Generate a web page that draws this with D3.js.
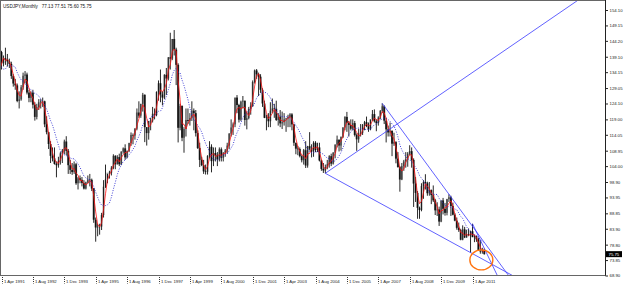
<!DOCTYPE html>
<html>
<head>
<meta charset="utf-8">
<script src="https://cdn.jsdelivr.net/npm/d3@7"></script>
<style>
  body { margin: 0; background: #fff; }
  svg { display: block; font-family: "Liberation Sans", Arial, sans-serif; }
</style>
</head>
<body>
<svg id="chart" width="625" height="286"></svg>
<script>
// monthly USDJPY bars, [open, high, low, close]
// 1990 rows (Aug-Dec) sit left of the window, they only feed the averages
const y1990 = [[149.0,151.0,143.0,144.0],[144.0,145.0,136.5,138.0],[138.0,138.5,124.0,129.0],[129.0,134.0,127.5,133.0],[133.0,136.0,130.0,135.7]];
const y1991 = [[135.7,136.5,130.5,131.5],[131.5,134.0,127.5,132.9],[132.9,142.0,132.0,140.6],[140.6,141.0,135.0,137.0],[137.0,139.5,136.0,138.6],[138.6,142.0,136.5,138.2],[138.2,140.0,136.0,137.6],[137.6,138.5,135.5,136.8],[136.8,137.5,132.0,132.9],[132.9,133.5,129.5,130.5],[130.5,132.0,128.5,129.9],[129.9,130.5,124.5,124.9]];
const y1992 = [[124.9,128.0,122.5,125.4],[125.4,130.0,125.0,129.3],[129.3,134.0,128.5,133.0],[133.0,134.5,130.5,133.4],[133.4,134.0,127.0,127.6],[127.6,128.5,124.5,125.9],[125.9,128.0,124.5,127.6],[127.6,128.5,122.5,123.7],[123.7,124.5,118.6,119.8],[119.8,124.0,119.0,123.0],[123.0,125.5,122.0,124.5],[124.5,125.5,122.5,124.8]];
const y1993 = [[124.8,126.0,123.0,124.8],[124.8,125.0,116.5,117.4],[117.4,120.0,114.2,114.9],[114.9,115.0,109.5,111.1],[111.1,112.0,105.0,107.3],[107.3,110.0,105.5,106.5],[106.5,110.0,104.5,104.7],[104.7,105.5,100.4,104.3],[104.3,107.0,103.5,105.7],[105.7,108.5,104.5,108.1],[108.1,109.5,105.0,109.0],[109.0,112.5,107.8,111.9]];
const y1994 = [[111.9,113.6,107.5,108.9],[108.9,109.5,101.5,104.3],[104.3,106.0,101.5,102.8],[102.8,105.0,101.2,102.1],[102.1,105.5,101.5,104.6],[104.6,105.0,98.0,98.5],[98.5,100.5,96.5,100.1],[100.1,101.0,98.5,99.6],[99.6,100.5,97.5,98.6],[98.6,99.5,96.5,96.8],[96.8,99.0,96.5,98.8],[98.8,101.0,98.5,99.7]];
const y1995 = [[99.7,101.5,97.5,99.6],[99.6,100.0,96.0,96.8],[96.8,97.0,85.8,86.8],[86.8,87.5,79.75,84.3],[84.3,85.5,81.5,84.6],[84.6,85.5,82.0,84.6],[84.6,89.0,83.5,88.3],[88.3,99.5,87.5,97.4],[97.4,104.5,97.0,99.7],[99.7,101.5,98.5,101.9],[101.9,102.5,100.0,101.9],[101.9,104.0,101.0,103.5]];
const y1996 = [[103.5,107.8,103.0,107.3],[107.3,107.5,103.0,104.6],[104.6,107.5,104.5,106.9],[106.9,108.0,104.0,104.6],[104.6,108.8,104.3,108.6],[108.6,110.0,108.0,109.7],[109.7,111.0,106.0,106.8],[106.8,109.0,106.5,108.9],[108.9,111.5,108.5,111.4],[111.4,114.8,110.5,114.0],[114.0,114.5,111.0,113.8],[113.8,116.2,112.5,116.0]];
const y1997 = [[116.0,122.5,115.5,121.2],[121.2,124.8,119.5,120.2],[120.2,124.0,119.5,124.0],[124.0,127.5,121.5,126.9],[126.9,127.0,111.7,116.5],[116.5,116.5,110.6,114.6],[114.6,118.5,112.5,118.5],[118.5,119.5,115.5,118.6],[118.6,123.0,118.0,120.8],[120.8,122.5,119.0,120.4],[120.4,128.0,120.0,127.8],[127.8,131.5,125.0,130.6]];
const y1998 = [[130.6,135.0,124.5,127.0],[127.0,128.0,123.5,126.0],[126.0,133.5,125.5,133.3],[133.3,135.5,126.8,132.1],[132.1,139.0,131.5,138.9],[138.9,146.8,135.0,138.5],[138.5,144.8,138.0,144.8],[144.8,147.66,139.5,141.4],[141.4,142.0,130.0,136.5],[136.5,137.0,111.6,116.3],[116.3,124.0,115.5,123.3],[123.3,123.5,112.0,113.1]];
const y1999 = [[113.1,116.5,108.3,115.9],[115.9,122.5,113.5,118.8],[118.8,122.5,117.5,118.5],[118.5,121.0,117.0,119.4],[119.4,124.8,118.5,121.8],[121.8,122.5,115.5,121.0],[121.0,122.0,113.5,114.6],[114.6,115.5,109.5,109.8],[109.8,111.5,103.7,106.0],[106.0,107.0,104.0,104.3],[104.3,106.0,101.5,102.3],[102.3,104.5,101.3,102.2]];
const y2000 = [[102.2,107.5,101.3,107.3],[107.3,112.0,106.5,110.2],[110.2,111.0,102.0,105.6],[105.6,110.0,104.0,108.2],[108.2,110.0,105.5,107.6],[107.6,108.5,104.0,106.1],[106.1,110.0,105.5,109.4],[109.4,110.0,105.5,106.7],[106.7,108.5,105.5,108.2],[108.2,109.5,107.0,109.0],[109.0,111.5,108.0,110.6],[110.6,114.6,109.5,114.4]];
const y2001 = [[114.4,119.0,113.5,116.4],[116.4,118.0,114.0,117.4],[117.4,126.0,116.5,126.0],[126.0,126.8,121.0,123.6],[123.6,124.0,118.0,118.9],[118.9,125.0,118.5,124.7],[124.7,126.5,122.5,125.0],[125.0,125.0,117.0,118.8],[118.8,121.5,115.8,119.4],[119.4,123.0,119.0,122.4],[122.4,124.5,120.5,123.4],[123.4,131.5,123.0,131.0]];
const y2002 = [[131.0,135.0,130.5,134.7],[134.7,135.15,132.0,133.5],[133.5,134.0,126.5,132.7],[132.7,133.5,127.5,128.5],[128.5,129.0,123.0,124.1],[124.1,125.0,119.4,119.5],[119.5,120.5,115.5,119.8],[119.8,121.0,116.5,118.4],[118.4,124.5,116.5,121.8],[121.8,125.7,121.0,122.5],[122.5,124.0,119.5,122.4],[122.4,125.0,118.5,118.8]];
const y2003 = [[118.8,121.0,117.0,119.9],[119.9,122.0,116.5,117.7],[117.7,121.5,115.9,118.1],[118.1,121.0,117.0,119.0],[119.0,119.5,115.0,119.3],[119.3,120.5,116.5,119.8],[119.8,121.0,116.5,120.6],[120.6,121.0,115.5,117.4],[117.4,117.5,110.5,111.5],[111.5,111.5,107.8,109.6],[109.6,110.5,107.5,109.5],[109.5,110.0,106.8,107.2]];
const y2004 = [[107.2,107.5,105.2,105.9],[105.9,109.5,104.5,109.1],[109.1,112.0,103.4,104.2],[104.2,110.5,103.5,110.4],[110.4,114.9,109.0,109.6],[109.6,111.0,106.8,108.7],[108.7,112.0,107.0,111.5],[111.5,112.0,108.5,109.2],[109.2,111.5,108.5,110.0],[110.0,111.5,105.5,105.8],[105.8,106.0,102.5,103.1],[103.1,105.0,101.8,102.6]];
const y2005 = [[102.6,104.5,101.7,103.6],[103.6,106.0,103.0,104.6],[104.6,107.5,103.5,107.2],[107.2,108.0,104.0,104.8],[104.8,108.5,104.5,108.3],[108.3,111.0,106.5,110.9],[110.9,113.8,110.0,112.5],[112.5,112.5,108.7,110.6],[110.6,113.5,109.0,113.4],[113.4,116.5,113.0,116.4],[116.4,120.0,115.5,119.8],[119.8,121.4,115.0,117.9]];
const y2006 = [[117.9,118.5,113.5,117.2],[117.2,119.0,115.5,116.0],[116.0,119.0,115.5,117.8],[117.8,118.5,113.5,114.0],[114.0,114.5,108.9,112.6],[112.6,116.0,111.5,114.5],[114.5,117.5,113.5,114.7],[114.7,117.5,114.0,117.3],[117.3,118.5,115.5,118.1],[118.1,119.9,116.5,116.9],[116.9,118.0,115.0,115.8],[115.8,119.0,115.5,119.0]];
const y2007 = [[119.0,122.0,118.5,120.7],[120.7,122.2,118.0,118.4],[118.4,119.0,115.2,117.8],[117.8,120.0,117.0,119.6],[119.6,122.0,119.0,121.7],[121.7,124.14,121.0,123.2],[123.2,123.5,117.5,118.6],[118.6,119.5,111.6,115.8],[115.8,117.0,113.5,114.8],[114.8,118.0,113.5,115.3],[115.3,115.5,107.2,111.2],[111.2,114.7,110.5,111.7]];
const y2008 = [[111.7,112.0,104.9,106.4],[106.4,108.5,103.5,103.7],[103.7,104.0,95.8,99.7],[99.7,105.0,99.5,104.0],[104.0,106.0,102.5,105.5],[105.5,108.5,103.5,106.2],[106.2,108.5,103.8,108.0],[108.0,110.7,107.5,108.8],[108.8,110.0,103.5,106.0],[106.0,106.5,90.9,98.4],[98.4,100.5,92.5,95.4],[95.4,96.0,87.1,90.6]];
const y2009 = [[90.6,91.0,87.1,89.9],[89.9,98.5,89.5,97.6],[97.6,99.5,93.5,98.9],[98.9,101.4,96.5,98.5],[98.5,99.0,94.5,95.3],[95.3,98.9,94.5,96.3],[96.3,96.5,91.8,94.7],[94.7,97.8,92.5,93.0],[93.0,93.5,88.3,89.8],[89.8,92.4,88.0,90.1],[90.1,91.0,84.8,86.2],[86.2,93.0,86.0,93.0]];
const y2010 = [[93.0,93.8,88.5,90.3],[90.3,92.2,88.1,89.0],[89.0,93.5,88.2,93.4],[93.4,94.97,92.5,94.0],[94.0,94.5,88.0,91.2],[91.2,92.3,88.2,88.4],[88.4,88.9,86.3,86.5],[86.5,87.5,83.6,84.2],[84.2,85.9,82.9,83.5],[83.5,83.9,80.2,80.4],[80.4,85.0,80.2,83.7],[83.7,84.5,80.9,81.1]];
const y2011 = [[81.1,83.6,81.0,82.0],[82.0,84.0,81.5,81.8],[81.8,83.3,76.25,83.1],[83.1,85.5,81.2,81.2],[81.2,82.0,79.6,81.5],[81.5,81.7,79.7,80.5],[80.5,81.0,76.8,76.8],[76.8,80.25,75.9,76.6],[76.6,77.8,75.9,77.13],[77.13,77.51,75.60,75.75]];
const firstBar = "Aug 1990";

// price scale labels and time labels
const yTicks = [154.10,149.15,144.20,139.10,134.15,129.05,124.10,119.00,114.05,108.95,104.00,98.90,93.95,88.85,83.90,78.80,73.85,68.90];
const xTickLabels = ["1 Apr 1991","1 Aug 1992","1 Dec 1993","1 Apr 1995","1 Aug 1996","1 Dec 1997","1 Apr 1999","1 Aug 2000","1 Dec 2001","1 Apr 2003","1 Aug 2004","1 Dec 2005","1 Apr 2007","1 Aug 2008","1 Dec 2009","1 Apr 2011"];

// drawn objects: trendline anchors [month, price] and the marked area
const trendLines = [
  [["Jan 2005", 101.7], ["Dec 2007", 116.8]],
  [["Jan 2005", 101.7], ["Mar 2011", 76.25]],
  [["Jun 2007", 124.14], ["Apr 2010", 94.97]],
  [["Apr 2011", 85.5], ["Aug 2011", 80.25]]
];
const marker = ["Aug 2011", 73.9];

const symbol = "USDJPY,Monthly";
const fastPeriod = 3, slowPeriod = 9;

const parseMonth = d3.timeParse("%b %Y");
const parseDay = d3.timeParse("%d %b %Y");
// bar number counted from Apr 1991
const monthIndex = d => (d.getFullYear() - 1991) * 12 + d.getMonth() - 3;

const rows = [].concat(y1990, y1991, y1992, y1993, y1994, y1995, y1996, y1997, y1998, y1999,
  y2000, y2001, y2002, y2003, y2004, y2005, y2006, y2007, y2008, y2009, y2010, y2011);
const start = parseMonth(firstBar);
const bars = rows.map((r, i) => ({
  i: monthIndex(start) + i,
  o: r[0], h: r[1], l: r[2], c: r[3]
}));

const plot = { left: 0.5, right: 605.5, top: 0.5, bottom: 275.5 };

const x = d3.scaleLinear().domain([0, 240]).range([1.5, 472.5]);
const y = d3.scaleLinear().domain([68.90, 154.10]).range([275.5, 10]);

const svg = d3.select("#chart");

svg.append("defs").append("clipPath").attr("id", "plot-clip")
  .append("rect")
  .attr("x", plot.left + 0.5).attr("y", plot.top + 0.5)
  .attr("width", plot.right - plot.left - 1).attr("height", plot.bottom - plot.top - 1);

const g = svg.append("g").attr("clip-path", "url(#plot-clip)");

// candles
const candles = g.append("g").selectAll("g")
  .data(bars)
  .enter()
  .append("g");

candles.append("rect")
  .attr("x", d => x(d.i) - 1)
  .attr("y", d => y(Math.max(d.o, d.c)))
  .attr("width", 2)
  .attr("height", d => Math.max(0.6, Math.abs(y(d.o) - y(d.c))))
  .attr("fill", d => d.c >= d.o ? "#a0a0a0" : "#3a3a3a");

candles.append("line")
  .attr("x1", d => x(d.i)).attr("x2", d => x(d.i))
  .attr("y1", d => y(d.h)).attr("y2", d => y(d.l))
  .attr("stroke", "#000")
  .attr("stroke-width", 0.85);

// moving averages
function sma(n) {
  return bars.map((d, k) => ({
    i: d.i,
    v: k < n - 1 ? null : d3.mean(bars.slice(k - n + 1, k + 1), b => b.c)
  }));
}

const maLine = d3.line()
  .defined(d => d.v !== null)
  .x(d => x(d.i))
  .y(d => y(d.v));

g.append("path")
  .datum(sma(slowPeriod))
  .attr("d", maLine)
  .attr("fill", "none")
  .attr("stroke", "#2b2bd0")
  .attr("stroke-width", 0.9)
  .attr("stroke-dasharray", "1,1.5");

g.append("path")
  .datum(sma(fastPeriod))
  .attr("d", maLine)
  .attr("fill", "none")
  .attr("stroke", "#ff1010")
  .attr("stroke-width", 0.8);

// trendlines, drawn as rays to the right
trendLines.forEach(t => {
  const x1 = x(monthIndex(parseMonth(t[0][0]))), y1 = y(t[0][1]);
  const x2 = x(monthIndex(parseMonth(t[1][0]))), y2 = y(t[1][1]);
  const k = (y2 - y1) / (x2 - x1);
  const xEnd = plot.right + 100;
  g.append("line")
    .attr("x1", x1).attr("y1", y1)
    .attr("x2", xEnd).attr("y2", y1 + k * (xEnd - x1))
    .attr("stroke", "#3a3aff")
    .attr("stroke-width", 0.8);
});

// marked area
g.append("ellipse")
  .attr("cx", x(monthIndex(parseMonth(marker[0]))) + 1)
  .attr("cy", y(marker[1]))
  .attr("rx", 11.5).attr("ry", 10)
  .attr("fill", "none")
  .attr("stroke", "#ff7410")
  .attr("stroke-width", 1.4);

// frame
svg.append("rect")
  .attr("x", plot.left).attr("y", plot.top)
  .attr("width", plot.right - plot.left).attr("height", plot.bottom - plot.top)
  .attr("fill", "none")
  .attr("stroke", "#666")
  .attr("stroke-width", 1);

svg.append("line")
  .attr("x1", plot.right).attr("x2", plot.right)
  .attr("y1", 0).attr("y2", plot.bottom)
  .attr("stroke", "#222");

// price axis
const yAxis = svg.append("g")
  .attr("transform", "translate(" + plot.right + ",0)")
  .call(d3.axisRight(y).tickValues(yTicks).tickSize(2.5).tickPadding(1.5).tickFormat(d3.format(".2f")));
yAxis.select(".domain").remove();
yAxis.selectAll("line").attr("stroke", "#222");
yAxis.selectAll("text")
  .attr("font-family", "'Liberation Sans', Arial, sans-serif")
  .attr("font-size", 4.3)
  .attr("fill", "#222");

// time axis
const xt = svg.append("g").selectAll("g")
  .data(xTickLabels)
  .enter()
  .append("g")
  .attr("transform", d => "translate(" + (Math.round(x(monthIndex(parseDay(d)))) + 0.5) + ",0)");

xt.append("line")
  .attr("y1", plot.bottom + 1.5).attr("y2", plot.bottom + 8)
  .attr("stroke", "#333")
  .attr("stroke-dasharray", "1,1");

xt.append("text")
  .attr("x", 1.5).attr("y", plot.bottom + 7.5)
  .attr("font-size", 4.3)
  .attr("fill", "#222")
  .text(d => d);

// current price box
const last = bars[bars.length - 1];
svg.append("rect")
  .attr("x", plot.right + 0.5).attr("y", y(last.c) - 3)
  .attr("width", 16).attr("height", 6)
  .attr("fill", "#000");
svg.append("text")
  .attr("x", plot.right + 3).attr("y", y(last.c) + 1.6)
  .attr("font-size", 4.3)
  .attr("fill", "#fff")
  .text(last.c.toFixed(2));

// header
svg.append("text")
  .attr("x", 3).attr("y", 8)
  .attr("font-size", 4.6)
  .attr("fill", "#111")
  .attr("xml:space", "preserve")
  .text(symbol + "   " + [last.o, last.h, last.l, last.c].map(v => v.toFixed(2)).join(" "));
</script>
</body>
</html>
